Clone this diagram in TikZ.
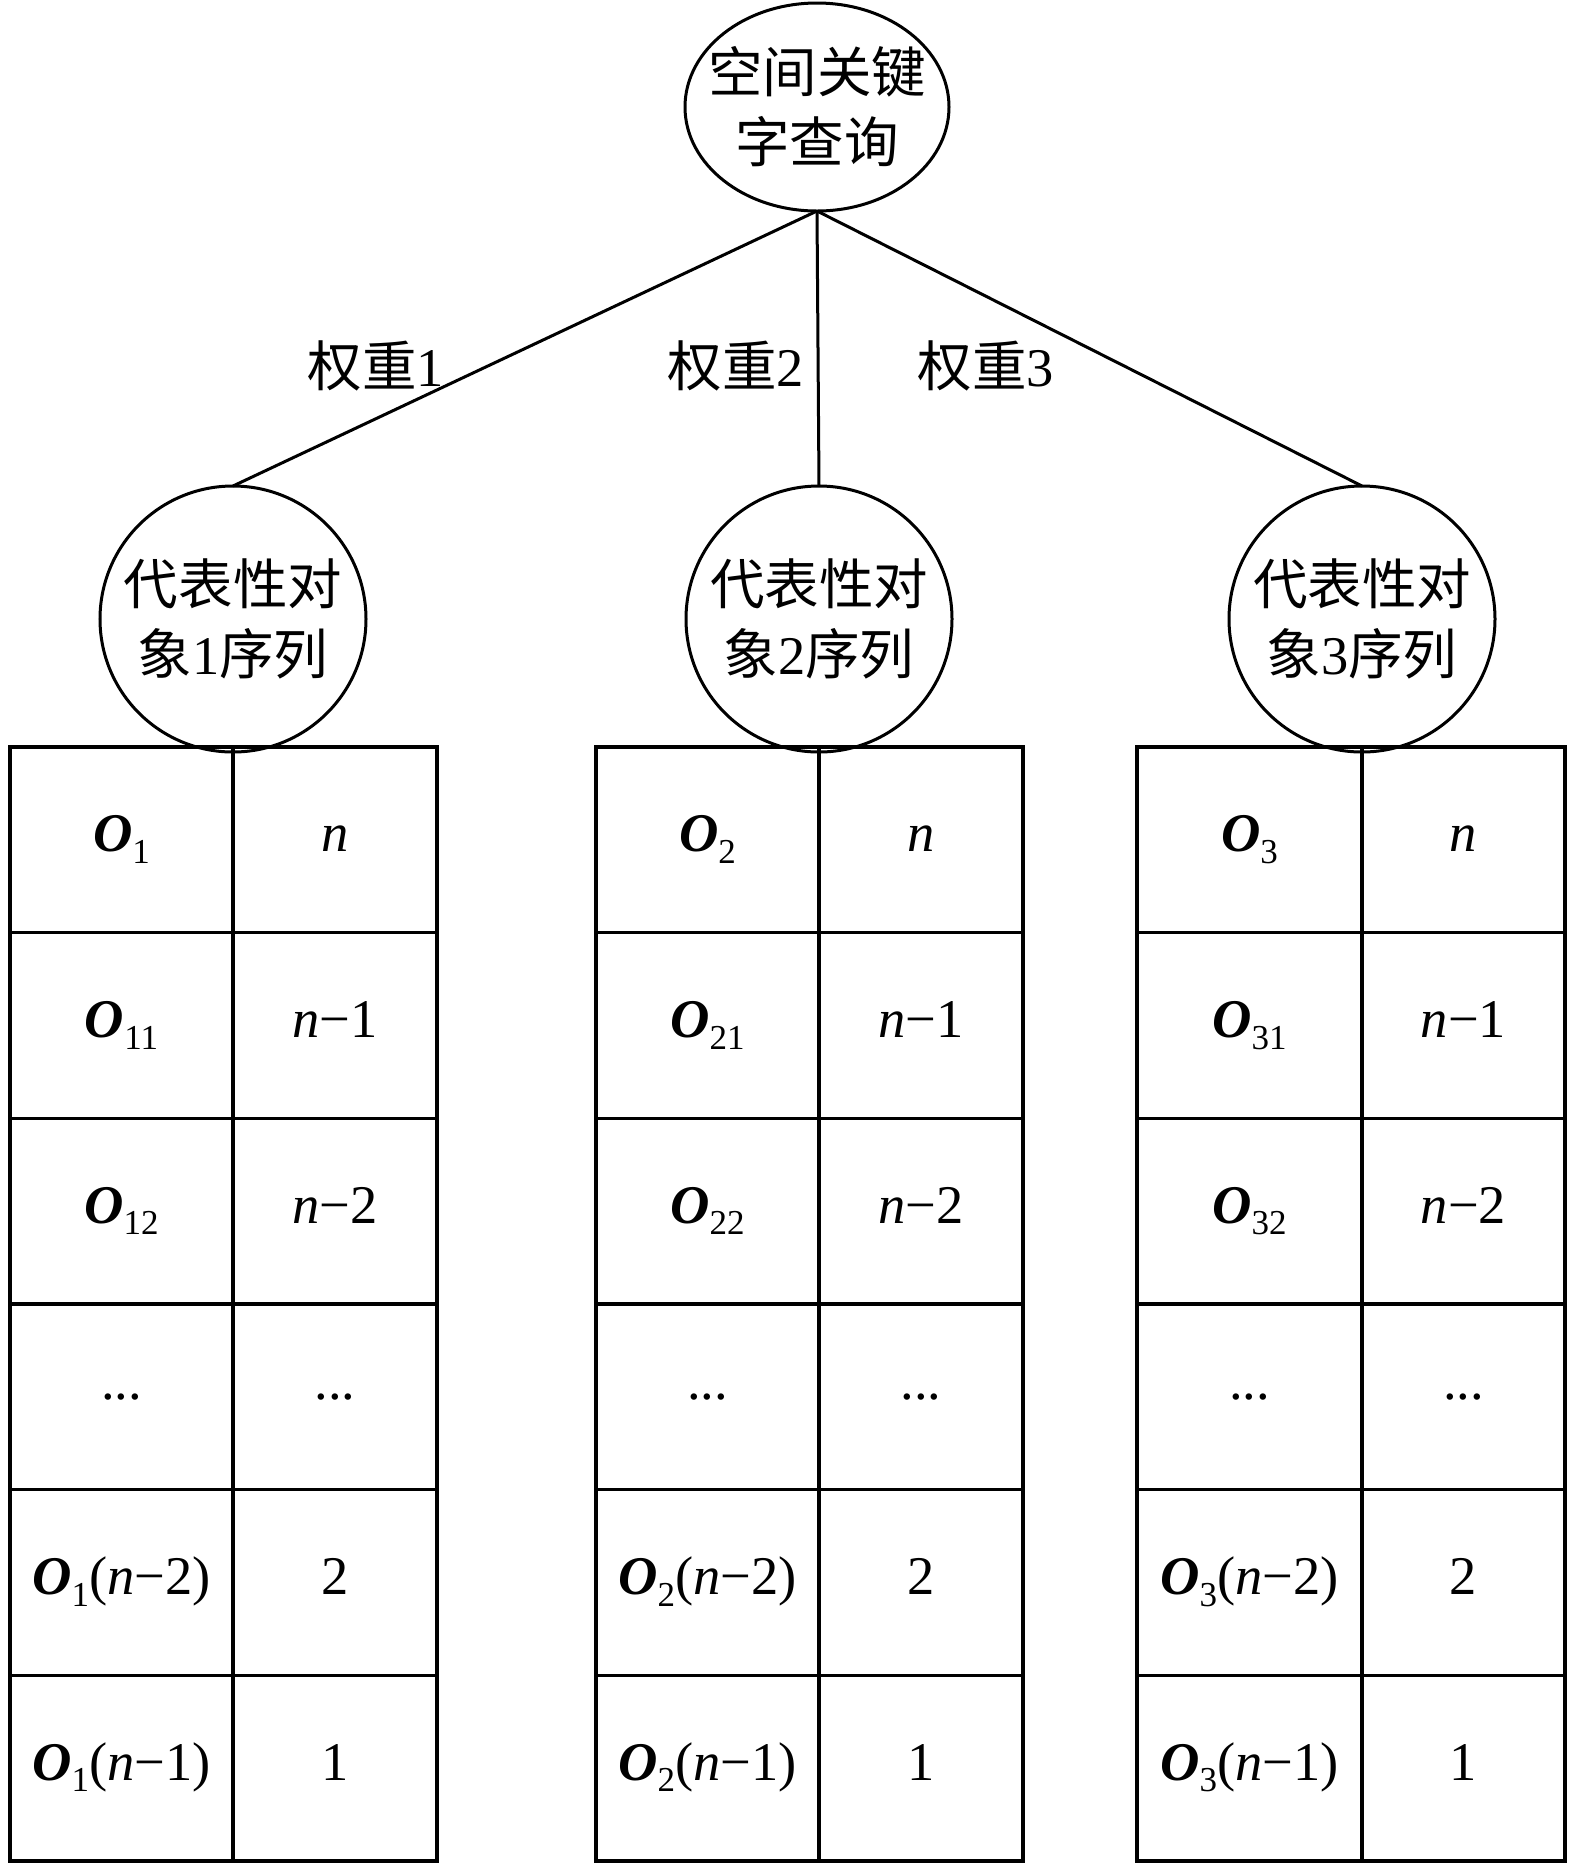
\documentclass[tikz,border=0pt]{standalone}
\usepackage{fontspec}
\setmainfont{Liberation Serif}
\newfontfamily\cjk{Noto Sans CJK SC}
\usetikzlibrary{shapes.geometric}
\newcommand\Ob[1]{\textbf{\textit{O}}\raisebox{-4.6pt}{\fontsize{14pt}{14pt}\selectfont #1}}
\newcommand\myminus{−}
\newcommand\seqtab[6]{%
  % #1 name, #2 x left, #3 x divider, #4 x right, #5 index, #6 divider width
  \draw[tabline] (#2,747) rectangle (#4,1861);
  \foreach \k in {1,...,5} {\draw[tabline] (#2,{747+\k*185.67}) -- (#4,{747+\k*185.67});}
  \draw[tabline, line width=#6] (#3,747) -- (#3,1861);
  \node[cell] (#1L1) at ({(#2+#3)/2},{747+0.5*185.67+12}) {\Ob{#5}};
  \node[cell] (#1R1) at ({(#3+#4)/2},{747+0.5*185.67+12}) {\textit{n}};
  \node[cell] (#1L2) at ({(#2+#3)/2},{747+1.5*185.67+12}) {\Ob{#51}};
  \node[cell] (#1R2) at ({(#3+#4)/2},{747+1.5*185.67+12}) {\textit{n}\myminus1};
  \node[cell] (#1L3) at ({(#2+#3)/2},{747+2.5*185.67+12}) {\Ob{#52}};
  \node[cell] (#1R3) at ({(#3+#4)/2},{747+2.5*185.67+12}) {\textit{n}\myminus2};
  \node[dots] (#1L4) at ({(#2+#3)/2},{747+3.5*185.67}) {...};
  \node[dots] (#1R4) at ({(#3+#4)/2},{747+3.5*185.67}) {...};
  \node[cell] (#1L5) at ({(#2+#3)/2},{747+4.5*185.67+12}) {\Ob{#5}(\textit{n}\myminus2)};
  \node[cell] (#1R5) at ({(#3+#4)/2},{747+4.5*185.67+12}) {2};
  \node[cell] (#1L6) at ({(#2+#3)/2},{747+5.5*185.67+12}) {\Ob{#5}(\textit{n}\myminus1)};
  \node[cell] (#1R6) at ({(#3+#4)/2},{747+5.5*185.67+12}) {1};
}
\begin{document}
\begin{tikzpicture}[x=0.4pt,y=-0.4pt,
  every node/.style={font=\fontsize{21.8pt}{26pt}\selectfont, inner sep=0pt, outer sep=0pt},
  tabline/.style={line width=1.3pt, line cap=rect},
  cell/.style={anchor=base},
  dots/.style={anchor=center},
  bubble/.style={circle, draw, line width=1.2pt, minimum size=106.4pt, align=center},
  rootnode/.style={ellipse, draw, line width=1.2pt, minimum width=105.6pt, minimum height=83.2pt},
  edge/.style={line width=1.2pt},
  weight/.style={anchor=center}]
\useasboundingbox (0,0) rectangle (1575,1868);

\node[rootnode] (q) at (817,107) {};
\node[align=center] (qt) at (817,107) {{\cjk 空间关键}\\[2pt]{\cjk 字查询}};

\node[bubble] (c1) at (233,619) {{\cjk 代表性对}\\[2pt]{\cjk 象}1{\cjk 序列}};
\node[bubble] (c2) at (819,619) {{\cjk 代表性对}\\[2pt]{\cjk 象}2{\cjk 序列}};
\node[bubble] (c3) at (1362,619) {{\cjk 代表性对}\\[2pt]{\cjk 象}3{\cjk 序列}};

\draw[edge] (q.south) -- (c1.north);
\draw[edge] (q.south) -- (c2.north);
\draw[edge] (q.south) -- (c3.north);

\node[weight] (w1) at (376,366) {{\cjk 权重}1};
\node[weight] (w2) at (736,366) {{\cjk 权重}2};
\node[weight] (w3) at (986,366) {{\cjk 权重}3};

\seqtab{a}{10}{233}{437}{1}{1.9pt}
\seqtab{b}{596}{819}{1023}{2}{1.9pt}
\seqtab{c}{1137}{1362}{1565}{3}{1.4pt}
\end{tikzpicture}
\end{document}
